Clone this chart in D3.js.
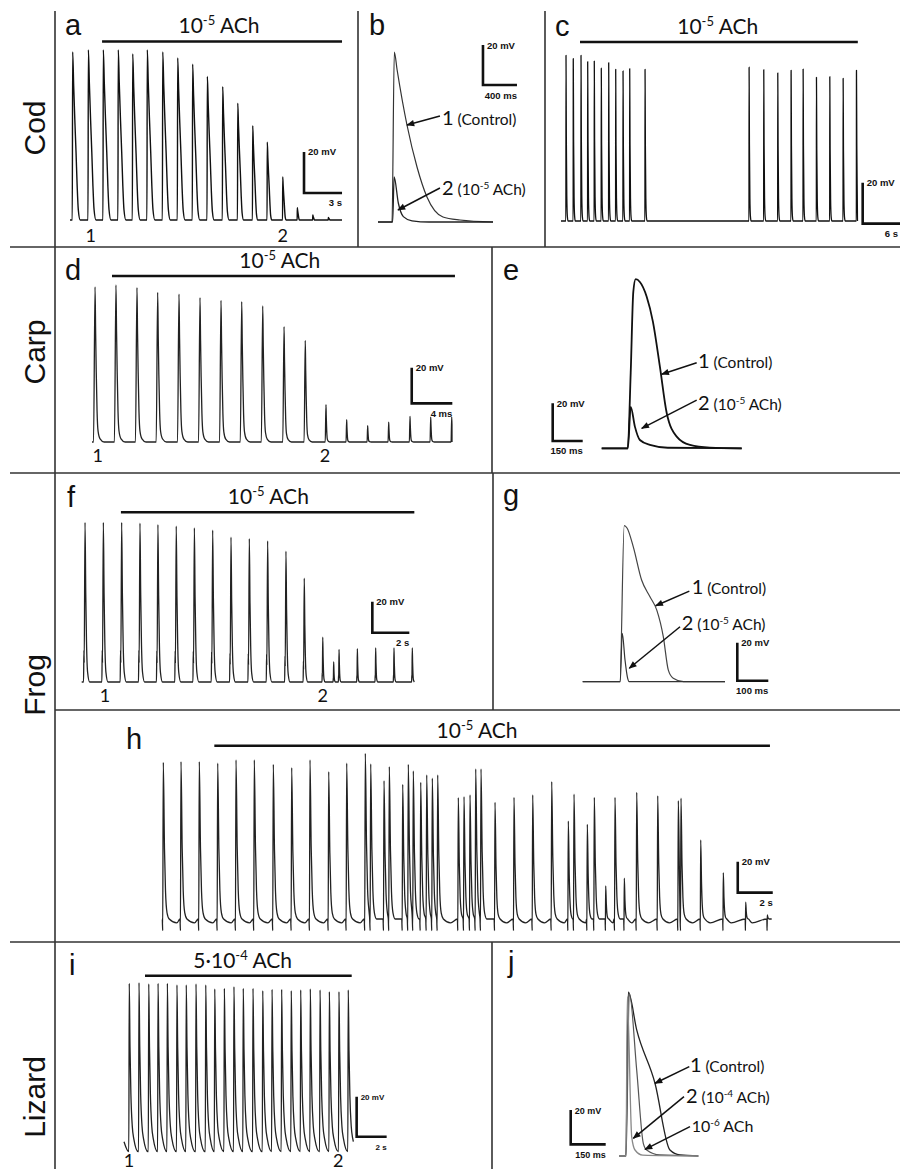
<!DOCTYPE html>
<meta charset="utf-8">
<title>ACh and action potentials in cod, carp, frog and lizard</title>
<style>
  body { margin: 0; background: #fff; }
  svg { display: block; }
  .lab { font-family: Lato, "Open Sans", sans-serif; fill: #111; }
  .sb { font-family: "Liberation Sans", Arial, sans-serif; font-weight: bold; fill: #111; }
  .big { font-family: "Liberation Sans", Arial, sans-serif; fill: #111; }
</style>
<svg width="900" height="1169"></svg>
<script src="https://cdn.jsdelivr.net/npm/d3@7"></script>
<script>

// ---------- data (time in s or ms, voltage in mV above rest) ----------

// a: cod, spontaneous APs (s, mV)
var codTimesA = [0.21, 1.45, 2.63, 3.81, 4.95, 6.10, 7.32, 8.50, 9.68, 10.84, 12.05, 13.24, 14.42, 15.57, 16.79, 17.94, 19.16, 20.39];
var codAmpsA  = [82, 83, 83, 83, 81, 83, 82, 79, 76, 70, 65, 57, 46, 38, 21, 6, 2.5, 1.3];

// b: cod single APs (ms, mV)
var codCtrlB = [[0, 0], [165, 0], [192, 85], [225, 76], [341, 48.5], [459, 27.5], [576, 12.5], [764, 2.5], [964, 1], [1353, 0]];
var codAchB  = [[0, 0], [172, 0], [190, 22.5], [239, 9.5], [298, 2.7], [400, 0.6], [600, 0], [1353, 0]];

// c: cod, second preparation (s, mV)
var codTimesC = [0.75, 1.84, 3.0, 4.0, 4.99, 6.04, 7.15, 8.2, 9.3, 10.3, 12.6, 28.2, 30.4, 32.5, 34.5, 36.3, 38.3, 40.3, 42.3, 44.3];
var codAmpsC  = [80.8, 79.2, 80.8, 77.7, 78, 74.5, 77.2, 74, 73.2, 74.3, 74, 75, 73.8, 72.2, 73.5, 74.1, 70.1, 70.4, 69.6, 73.5];

// d: carp (s, mV)
var carpTimesD = [0.30, 2.36, 4.43, 6.47, 8.57, 10.64, 12.71, 14.75, 16.82, 18.92, 21.01, 23.05, 25.09, 27.16, 29.23, 31.33, 33.37, 35.44];
var carpAmpsD  = [87.2, 88.2, 86.7, 84.1, 83.1, 81.1, 79.6, 78.8, 76.4, 64.8, 57.1, 21, 12.5, 9.2, 11.2, 14.4, 14, 14];

// e: carp single APs (ms, mV)
var carpCtrlE = [[0, 0], [130, 0], [145, 40], [158, 83], [170, 89.7], [191, 88.2], [225, 80.4], [256, 67.2], [291, 43.3], [325, 18.7], [375, 6.2], [441, 1.8], [541, 0.4], [700, 0]];
var carpAchE  = [[0, 0], [131, 0], [145, 22], [166, 11.5], [191, 4.4], [241, 1.8], [330, 0.3], [700, 0]];

// f: frog (s, mV)
var frogTimesF = [0.18, 1.17, 2.16, 3.15, 4.12, 5.11, 6.09, 7.08, 8.07, 9.06, 10.05, 11.04, 12.03, 13.03, 13.62, 13.91, 14.90, 15.89, 16.88, 17.87];
var frogAmpsF  = [103, 103, 103, 102.5, 101.5, 100.5, 99.5, 98, 93.5, 92.5, 91, 84.5, 67, 29, 13, 21, 21.5, 22, 22, 22];

// g: frog single APs (ms, mV)
var frogCtrlG = [[0, 0], [120, 0], [134, 82.1], [143, 80.9], [163, 71.1], [190, 53.5], [217, 44.7], [239, 37.7], [260, 23.7], [276, 6.2], [292, 1.8], [325, 0], [459, 0]];
var frogAchG  = [[0, 0], [121, 0], [127.7, 25.5], [136.5, 11.4], [144, 2.6], [150, 0], [459, 0]];

// h: frog, long recording (s, mV)
var frogTimesH = [0.074, 1.086, 2.131, 3.183, 4.229, 5.274, 6.36, 7.411, 8.457, 9.526, 10.554, 11.617, 11.926, 12.686, 12.989,
  13.754, 14.074, 14.36, 14.783, 15.126, 15.446, 15.754, 16.931, 17.257, 17.6, 17.926, 18.229, 19.029, 20.114, 21.183,
  22.269, 23.217, 23.543, 24.303, 24.703, 25.354, 25.886, 26.417, 27.126, 28.326, 29.503, 29.657, 30.783, 32.074, 33.354, 34.589];
var frogAmpsH = [101, 101.5, 101.5, 100.5, 102.6, 102.6, 99.8, 97.6, 102.6, 95, 100.5, 106.9, 100, 89.2, 98.3,
  86.9, 99.8, 95.5, 88.2, 92.9, 90.8, 92.9, 78.3, 78.9, 80, 96.8, 96.8, 75.3, 78.5, 80,
  88.6, 63.2, 80.5, 61.1, 78.5, 21.3, 78.5, 26.3, 81.7, 79.5, 76.3, 77.9, 51, 29.9, 10.8, 2.6];

// i: lizard (s, mV)
var lizTimesI = [0.35, 1.0, 1.65, 2.27, 2.89, 3.53, 4.15, 4.8, 5.45, 6.05, 6.69, 7.33, 7.95, 8.6, 9.25, 9.87, 10.51, 11.15, 11.78, 12.42, 13.07, 13.69, 14.33, 14.95];
var lizAmpsI  = [79.2, 79.5, 78.9, 79.2, 79.2, 78.4, 78.4, 78.9, 78.4, 76.4, 76.7, 77.5, 76.7, 76.7, 75.5, 76.2, 76.2, 75.5, 75.9, 76.4, 75.9, 75, 75, 75.9];

// j: lizard single APs (ms, mV)
var lizCtrlJ = [[0, 0], [28, 0], [38.6, 95.5], [74.6, 73.5], [153, 42.4], [217, 3.5], [260, 0.6], [338.6, 0]];
var liz6J    = [[0, 0], [29, 0], [42.9, 94.9], [74.6, 50.1], [102.9, 7.4], [117.4, 3.5], [174, 0.6], [338.6, 0]];
var liz4J    = [[0, 0], [28.7, 0], [34.3, 92.9], [53.1, 11.3], [67.3, 3.5], [100, 0.5], [338.6, 0]];

// AP shape templates for the trains: [time offset, fraction of amplitude, extra mV]
var codTplA  = [[-0.03, 0], [0, 1], [0.08, 0.8], [0.17, 0.6], [0.27, 0.4], [0.36, 0.2], [0.45, 0.06], [0.6, 0]];
var codTplC  = [[-0.02, 0], [0, 1], [0.05, 0.5], [0.12, 0.15], [0.2, 0.03], [0.3, 0]];
var carpTpl  = [[-0.15, 0], [0, 1], [0.06, 0.7], [0.12, 0.45], [0.2, 0.2], [0.3, 0.07], [0.5, 0.02], [0.9, 0]];
var frogTplF = [[-0.08, 0], [-0.06, 0.2], [-0.045, 0.12], [0, 1], [0.04, 0.55], [0.08, 0.25], [0.14, 0.06], [0.25, 0]];
var frogTplH = [[-0.06, 0, 0], [-0.035, 0, -7.5], [0, 1, 0], [0.07, 0.45, 0], [0.13, 0.18, 0], [0.22, 0.04, 0], [0.35, 0, 0], [0.8, 0, -2.5]];
var lizTpl   = [[-0.03, 0, -5], [0, 1, 0], [0.05, 0.6, 0], [0.11, 0.3, 0], [0.2, 0.1, 0], [0.3, 0.02, 0], [0.6, 0, -5]];

// ---------- layout (pixels) ----------
var frames = {
  a: {x0: 70,    px: 12.67,  y0: 220,    pv: 2.05},
  b: {x0: 378,   px: 0.085,  y0: 222,    pv: 2.0},
  c: {x0: 561,   px: 6.67,   y0: 221,    pv: 2.05},
  d: {x0: 92,    px: 10.15,  y0: 442,    pv: 1.78},
  e: {x0: 601.7, px: 0.2,    y0: 448.3,  pv: 1.885},
  f: {x0: 81.7,  px: 18.5,   y0: 682,    pv: 1.55},
  g: {x0: 582.7, px: 0.31,   y0: 681.7,  pv: 1.9},
  h: {x0: 162,   px: 17.5,   y0: 919,    pv: 1.55},
  i: {x0: 124,   px: 15,     y0: 1141.7, pv: 2},
  j: {x0: 619.3, px: 0.2333, y0: 1156,   pv: 1.715}
};

var gridLines = [
  [55, 11, 55, 1169], [10, 247, 900, 247], [10, 473, 900, 473], [55, 710, 900, 710], [10, 942, 900, 942],
  [358, 11, 358, 247], [545, 11, 545, 247], [492, 247, 492, 473], [493, 473, 493, 710], [492, 942, 492, 1169]
];

var species = [["Cod", 128], ["Carp", 352], ["Frog", 685], ["Lizard", 1097]];
var letters = [["a", 65, 35], ["b", 369, 35], ["c", 555, 36], ["d", 65, 280], ["e", 503, 280],
               ["f", 67, 507], ["g", 503, 505], ["h", 126, 749], ["i", 69, 975], ["j", 508, 972]];

// ---------- helpers ----------
var svg = d3.select("svg");

var defs = svg.append("defs");
defs.append("marker")
    .attr("id", "arr")
    .attr("viewBox", "0 0 10 10")
    .attr("refX", 9).attr("refY", 5)
    .attr("markerWidth", 9).attr("markerHeight", 8)
    .attr("markerUnits", "userSpaceOnUse")
    .attr("orient", "auto")
  .append("path")
    .attr("d", "M0,1L10,5L0,9z")
    .attr("fill", "#111");

function scales(f) {
  return {
    x: d3.scaleLinear().domain([0, 1]).range([f.x0, f.x0 + f.px]),
    y: d3.scaleLinear().domain([0, 1]).range([f.y0, f.y0 - f.pv])
  };
}

function lineGen(s) {
  return d3.line()
      .x(function(d) { return s.x(d[0]); })
      .y(function(d) { return s.y(d[1]); })
      .curve(d3.curveMonotoneX);
}

// builds one continuous trace from spike times/amplitudes and a shape template
function trainPoints(times, amps, tpl, kMin, dur) {
  var top = d3.max(amps);
  var k = amps.map(function(a) { return kMin + (1 - kMin) * a / top; });
  var pts = [[0, 0]];
  times.forEach(function(t, i) {
    var stop = i < times.length - 1 ? times[i + 1] + tpl[0][0] * k[i + 1] : dur;
    tpl.forEach(function(p) {
      var tt = t + p[0] * k[i];
      if (tt > pts[pts.length - 1][0] && tt < stop) pts.push([tt, p[1] * amps[i] + (p[2] || 0)]);
    });
  });
  if (pts[pts.length - 1][0] < dur) pts.push([dur, 0]);
  return pts;
}

function trace(s, pts, color, w) {
  svg.append("path")
      .datum(pts)
      .attr("d", lineGen(s))
      .attr("fill", "none")
      .attr("stroke", color)
      .attr("stroke-width", w)
      .attr("stroke-linejoin", "round");
}

// text with parts: [string, font size, dy]
function rich(x, y, parts, anchor) {
  var t = svg.append("text")
      .attr("class", "lab")
      .attr("x", x).attr("y", y)
      .attr("text-anchor", anchor || "start");
  parts.forEach(function(p) {
    t.append("tspan").attr("font-size", p[1]).attr("dy", p[2] || 0).text(p[0]);
  });
}

function achHeader(s, bar, parts) {
  var y = s.y(bar[2]);
  svg.append("line")
      .attr("x1", s.x(bar[0])).attr("x2", s.x(bar[1]))
      .attr("y1", y).attr("y2", y)
      .attr("stroke", "#111").attr("stroke-width", 2.6);
  rich(s.x(bar[3]), y - 8, parts, "middle");
}

function numbers(s, marks, v) {
  marks.forEach(function(m) {
    svg.append("text").attr("class", "lab")
        .attr("x", s.x(m[0])).attr("y", s.y(v))
        .attr("text-anchor", "middle")
        .attr("font-size", 18)
        .text(m[1]);
  });
}

function scaleBar(s, sb, fs) {
  var cx = s.x(sb[0]), cy = s.y(sb[1]);
  var top = s.y(sb[1] + 20), right = s.x(sb[0] + sb[2]);
  svg.append("path")
      .attr("d", "M" + cx + "," + top + "V" + cy + "H" + right)
      .attr("fill", "none").attr("stroke", "#111").attr("stroke-width", 2.6);
  svg.append("text").attr("class", "sb").attr("font-size", fs || 9.5)
      .attr("x", cx + 4).attr("y", top + 3.5).text("20 mV");
  svg.append("text").attr("class", "sb").attr("font-size", fs || 9.5)
      .attr("x", Math.min(right, 898)).attr("y", cy + 13.5).attr("text-anchor", "end").text(sb[3]);
}

function arrowLabel(s, a) {
  svg.append("line")
      .attr("x1", s.x(a.from[0])).attr("y1", s.y(a.from[1]))
      .attr("x2", s.x(a.to[0])).attr("y2", s.y(a.to[1]))
      .attr("stroke", "#111").attr("stroke-width", 1.5)
      .attr("marker-end", "url(#arr)");
  rich(s.x(a.at[0]), s.y(a.at[1]), a.parts);
}

var ctrlParts = [["1", 20], [" (Control)", 15.5]];
function achParts(n, e) { return [[n, 20], [" (10", 15.5], [e, 10, -6], [" ACh)", 15.5, 6]]; }
var headParts = [["10", 21], ["-5", 13, -8], [" ACh", 21, 8]];

// ---------- frame ----------
svg.append("g").selectAll("line").data(gridLines).enter().append("line")
    .attr("x1", function(d) { return d[0]; }).attr("y1", function(d) { return d[1]; })
    .attr("x2", function(d) { return d[2]; }).attr("y2", function(d) { return d[3]; })
    .attr("stroke", "#333").attr("stroke-width", 1.6);

species.forEach(function(sp) {
  svg.append("text").attr("class", "big")
      .attr("transform", "translate(45," + sp[1] + ") rotate(-90)")
      .attr("text-anchor", "middle").attr("font-size", 30)
      .text(sp[0]);
});

letters.forEach(function(l) {
  svg.append("text").attr("class", "big")
      .attr("x", l[1]).attr("y", l[2]).attr("font-size", 29).text(l[0]);
});

// ---------- a ----------
var sa = scales(frames.a);
trace(sa, trainPoints(codTimesA, codAmpsA, codTplA, 0.25, 21.47), "#111", 1.4);
achHeader(sa, [2.53, 21.47, 87.1, 11.76], headParts);
numbers(sa, [[1.63, "1"], [16.79, "2"]], -10.7);
scaleBar(sa, [18.47, 13.2, 3, "3 s"]);

// ---------- b ----------
var sbb = scales(frames.b);
trace(sbb, codCtrlB, "#333", 1.2);
trace(sbb, codAchB, "#222", 1.3);
scaleBar(sbb, [1235, 68.5, 400, "400 ms"]);
arrowLabel(sbb, {at: [753, 48.5], from: [729, 53], to: [341, 48.5], parts: ctrlParts});
arrowLabel(sbb, {at: [753, 13.5], from: [729, 17], to: [235, 6], parts: achParts("2", "-5")});

// ---------- c ----------
var sc = scales(frames.c);
trace(sc, trainPoints(codTimesC, codAmpsC, codTplC, 1, 44.45), "#111", 1.3);
achHeader(sc, [2.85, 44.5, 87.3, 23.5], headParts);
scaleBar(sc, [45.23, -1.3, 6, "6 s"]);

// ---------- d ----------
var sd = scales(frames.d);
trace(sd, trainPoints(carpTimesD, carpAmpsD, carpTpl, 0.3, 35.47), "#222", 1.3);
achHeader(sd, [1.97, 35.76, 93.3, 18.5], headParts);
numbers(sd, [[0.56, "1"], [22.96, "2"]], -11);
scaleBar(sd, [31.5, 21.7, 4, "4 ms"]);

// ---------- e ----------
var se = scales(frames.e);
trace(se, carpCtrlE, "#111", 1.8);
trace(se, carpAchE, "#111", 1.8);
scaleBar(se, [-245, 3.9, 150, "150 ms"]);
arrowLabel(se, {at: [481.5, 42.6], from: [475, 45.4], to: [300, 39.3], parts: ctrlParts});
arrowLabel(se, {at: [481.5, 20.3], from: [475, 25.6], to: [200, 10.6], parts: achParts("2", "-5")});

// ---------- f ----------
var sf = scales(frames.f);
trace(sf, trainPoints(frogTimesF, frogAmpsF, frogTplF, 0.3, 17.98), "#222", 1.3);
achHeader(sf, [2.12, 17.98, 109.5, 10.09], headParts);
numbers(sf, [[1.26, "1"], [13.03, "2"]], -12.7);
scaleBar(sf, [15.71, 31.8, 2, "2 s"]);

// ---------- g ----------
var sg = scales(frames.g);
trace(sg, frogCtrlG, "#444", 1.2);
trace(sg, frogAchG, "#333", 1.2);
scaleBar(sg, [498.7, 0.5, 100, "100 ms"]);
arrowLabel(sg, {at: [351.6, 46], from: [344, 47.7], to: [235.5, 40], parts: ctrlParts});
arrowLabel(sg, {at: [319.4, 27.2], from: [314, 28.9], to: [150.3, 7.1], parts: achParts("2", "-5")});

// ---------- h ----------
var sh = scales(frames.h);
trace(sh, trainPoints(frogTimesH, frogAmpsH, frogTplH, 0.4, 34.84), "#222", 1.3);
achHeader(sh, [2.99, 34.74, 111.8, 18], headParts);
scaleBar(sh, [32.9, 17, 2, "2 s"]);

// ---------- i ----------
var si = scales(frames.i);
trace(si, trainPoints(lizTimesI, lizAmpsI, lizTpl, 1, 15.29), "#222", 1.3);
achHeader(si, [1.4, 15.18, 83, 7.91], [["5·10", 21], ["-4", 13, -8], [" ACh", 21, 8]]);
numbers(si, [[0.33, "1"], [14.29, "2"]], -12.4);
scaleBar(si, [15.51, 2.5, 2, "2 s"], 8);

// ---------- j ----------
var sj = scales(frames.j);
trace(sj, lizCtrlJ, "#222", 1.3);
trace(sj, liz6J, "#555", 1.2);
trace(sj, liz4J, "#888", 1.3);
scaleBar(sj, [-208.3, 6.8, 150, "150 ms"], 9);
arrowLabel(sj, {at: [302.6, 49.2], from: [300, 52.1], to: [153, 42.4], parts: ctrlParts});
arrowLabel(sj, {at: [285.7, 31.1], from: [277.3, 34.6], to: [60, 10.3], parts: achParts("2", "-4")});
arrowLabel(sj, {at: [310.3, 14.2], from: [303, 17.1], to: [110.1, 3.9], parts: [["10", 16], ["-6", 10, -6], [" ACh", 16, 6]]});

</script>
